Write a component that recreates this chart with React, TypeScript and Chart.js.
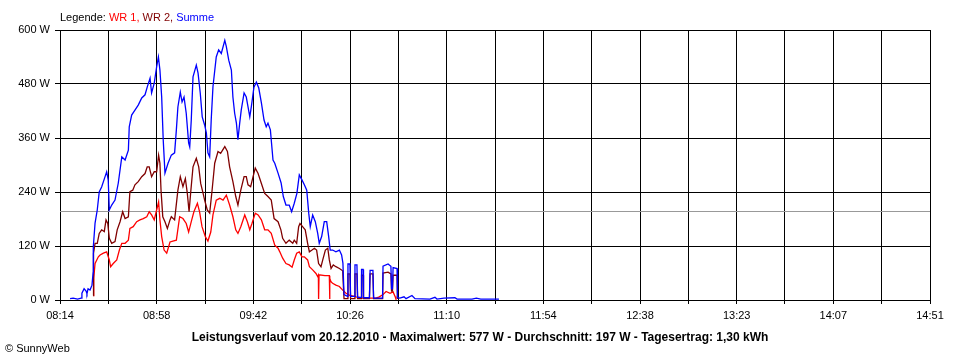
import React, { useEffect, useRef } from 'react';
import { Chart, registerables } from 'chart.js';

Chart.register(...registerables);

// ---- data (x in minutes after 08:14, y in watts) ----
const TOTAL_MINUTES = 397;
const X_LABELS = ['08:14', '08:58', '09:42', '10:26', '11:10', '11:54', '12:38', '13:23', '14:07', '14:51'];
const X_DIVISIONS = 18;
const Y_MAX = 600;
const Y_STEP = 120;
const AVERAGE_W = 197;
const TITLE = 'Leistungsverlauf vom 20.12.2010 - Maximalwert: 577 W - Durchschnitt: 197 W - Tagesertrag: 1,30 kWh';
const COPYRIGHT = '\u00A9 SunnyWeb';

const sumMinutes = [4.6, 6.0, 8.0, 9.6, 10.0, 11.0, 11.9, 12.3, 12.8, 13.7, 14.6, 15.1, 15.2, 16.0, 17.0, 17.9, 19.0, 20.5, 21.3, 22.0, 22.5, 23.6, 25.1, 26.6, 28.2, 29.7, 31.2, 31.6, 32.7, 34.2, 35.7, 37.3, 38.8, 39.8, 41.1, 41.8, 43.0, 44.1, 44.9, 45.6, 46.4, 47.1, 47.9, 49.3, 50.8, 52.3, 53.1, 53.8, 54.9, 55.7, 56.6, 57.6, 58.7, 59.2, 59.9, 60.7, 62.2, 63.0, 64.0, 64.9, 66.0, 66.8, 67.5, 68.3, 69.0, 69.8, 71.3, 72.4, 73.6, 75.2, 75.9, 77.0, 78.2, 78.9, 79.7, 80.5, 81.2, 82.0, 82.7, 84.0, 85.0, 85.8, 86.6, 87.3, 88.5, 89.6, 90.7, 91.9, 93.1, 94.1, 94.9, 96.0, 97.2, 98.0, 99.5, 100.9, 101.9, 103.1, 104.6, 105.7, 106.9, 108.1, 109.2, 110.4, 111.5, 112.6, 113.5, 114.2, 115.3, 116.5, 117.6, 118.3, 119.4, 120.6, 121.7, 122.6, 123.3, 124.4, 125.9, 127.5, 128.5, 129.1, 129.6, 131.2, 131.4, 132.3, 132.6, 134.4, 134.6, 135.5, 135.8, 137.4, 137.6, 138.3, 138.5, 141.2, 141.5, 142.8, 143.1, 147.2, 147.4, 149.7, 151.0, 151.3, 151.7, 152.0, 153.8, 154.0, 155.1, 157.0, 157.9, 160.6, 162.0, 168.8, 171.1, 172.0, 175.2, 180.2, 181.2, 188.0, 190.0, 192.0, 200.3];
const sumWatts = [3, 4, 2, 4, 15, 25, 20, 14, 25, 22, 33, 60, 118, 171, 200, 240, 251, 273, 285, 267, 200, 211, 222, 260, 318, 311, 333, 385, 411, 422, 433, 449, 456, 473, 493, 460, 482, 518, 540, 511, 451, 356, 282, 304, 322, 327, 378, 429, 462, 440, 451, 415, 349, 340, 400, 496, 522, 504, 460, 407, 389, 371, 327, 318, 400, 474, 540, 556, 548, 577, 563, 533, 511, 451, 415, 393, 356, 393, 422, 460, 451, 429, 407, 429, 473, 484, 471, 438, 400, 385, 393, 378, 311, 304, 282, 260, 230, 211, 211, 196, 215, 237, 278, 267, 256, 244, 193, 163, 189, 174, 148, 126, 141, 174, 174, 141, 111, 111, 107, 111, 100, 82, 12, 8, 80, 80, 8, 8, 78, 78, 6, 6, 68, 68, 5, 5, 66, 66, 4, 4, 75, 80, 75, 25, 25, 72, 70, 5, 4, 7, 3, 10, 3, 2, 6, 2, 4, 5, 2, 2, 4, 2, 2];

const wr1Minutes = [15.2, 15.4, 16.0, 17.5, 18.3, 19.8, 21.3, 22.5, 23.1, 24.3, 25.9, 27.1, 28.2, 29.7, 31.2, 31.9, 33.4, 35.0, 36.5, 38.0, 39.6, 40.7, 41.8, 43.0, 44.1, 45.0, 45.6, 46.4, 47.5, 48.7, 50.2, 51.5, 53.1, 54.6, 56.1, 57.6, 58.7, 59.9, 61.1, 62.7, 63.7, 64.8, 66.3, 67.5, 68.8, 69.8, 71.3, 72.9, 74.4, 75.9, 77.4, 78.9, 80.2, 81.2, 82.5, 84.3, 85.5, 86.6, 87.6, 89.1, 90.4, 91.9, 93.4, 94.9, 96.4, 98.0, 99.5, 100.3, 101.6, 103.1, 104.6, 105.9, 106.9, 108.0, 109.2, 110.4, 111.5, 113.0, 113.8, 115.3, 116.8, 117.6, 117.9, 118.0, 118.2, 120.9, 122.9, 123.0, 123.2, 123.6, 124.4, 125.9, 127.5, 129.0, 130.5, 132.0, 135.1, 138.1, 144.2, 145.7, 147.4, 148.8, 150.6, 152.0, 152.9, 153.3];
const wr1Watts = [10, 49, 81, 96, 100, 104, 107, 89, 74, 81, 89, 111, 126, 126, 133, 159, 163, 174, 178, 181, 185, 196, 189, 178, 200, 218, 178, 141, 111, 104, 129, 131, 133, 185, 181, 170, 151, 174, 196, 215, 196, 163, 141, 131, 151, 189, 222, 226, 222, 233, 211, 185, 156, 148, 163, 189, 174, 156, 170, 193, 189, 178, 156, 156, 148, 122, 115, 107, 93, 81, 78, 73, 89, 104, 107, 96, 96, 89, 74, 67, 59, 52, 55, 2, 56, 54, 54, 2, 48, 41, 37, 33, 30, 22, 15, 11, 7, 4, 4, 7, 12, 19, 15, 18, 8, 2];

const wr2Minutes = [15.2, 15.3, 16.0, 17.0, 17.9, 19.0, 20.2, 21.0, 21.8, 22.5, 23.6, 25.1, 26.1, 27.4, 28.6, 29.7, 31.2, 31.9, 33.2, 34.2, 35.7, 37.3, 38.8, 39.8, 40.7, 41.8, 43.0, 44.1, 45.0, 45.6, 46.1, 46.9, 47.9, 49.0, 50.2, 50.8, 52.3, 53.8, 54.9, 56.1, 57.2, 58.1, 58.9, 59.6, 60.7, 62.2, 63.3, 64.2, 65.3, 66.0, 67.2, 68.3, 69.4, 70.6, 72.1, 73.3, 75.2, 76.4, 77.4, 78.9, 80.2, 81.2, 82.5, 84.0, 85.0, 85.8, 87.0, 88.1, 89.1, 90.4, 91.9, 93.4, 94.9, 96.4, 97.7, 99.5, 100.8, 101.6, 103.1, 104.6, 106.2, 106.9, 108.0, 108.9, 109.5, 110.7, 111.9, 113.0, 113.8, 115.0, 116.1, 117.1, 118.0, 119.1, 119.9, 121.1, 122.2, 122.9, 123.7, 124.7, 125.9, 127.5, 129.0, 129.1, 129.6, 131.2, 131.4, 132.3, 132.6, 134.4, 134.6, 135.5, 135.8, 137.4, 137.6, 138.3, 138.5, 141.2, 141.5, 142.8, 143.1, 147.2, 147.4, 149.7, 151.0, 151.3, 151.7, 152.0, 153.8, 154.0];
const wr2Watts = [10, 104, 126, 126, 148, 156, 152, 178, 170, 137, 126, 130, 156, 174, 196, 181, 185, 241, 244, 256, 263, 274, 281, 296, 296, 274, 285, 285, 322, 304, 244, 185, 174, 159, 178, 185, 178, 244, 274, 252, 270, 237, 196, 237, 296, 315, 296, 259, 237, 222, 200, 193, 244, 304, 330, 326, 341, 330, 296, 263, 230, 211, 244, 274, 274, 256, 252, 274, 293, 281, 259, 237, 230, 222, 181, 174, 156, 137, 126, 133, 126, 133, 126, 163, 170, 163, 156, 126, 107, 111, 115, 111, 81, 74, 89, 111, 115, 89, 70, 78, 74, 70, 65, 52, 3, 3, 58, 58, 3, 3, 58, 58, 3, 3, 55, 55, 3, 3, 58, 58, 3, 3, 60, 62, 58, 20, 20, 55, 55, 2];

// ---- styling ----
const FONT = "'Liberation Sans Narrow', 'Arial Narrow', 'Liberation Sans', Arial, sans-serif";
const COLOR_WR1 = '#ff0000';
const COLOR_WR2 = '#800000';
const COLOR_SUM = '#0000ff';
const LEGEND_PARTS: [string, string][] = [
  ['Legende: ', '#000000'],
  ['WR 1, ', COLOR_WR1],
  ['WR 2, ', COLOR_WR2],
  ['Summe', COLOR_SUM],
];

const toPoints = (xs: number[], ys: number[]) => xs.map((x, i) => ({ x, y: ys[i] }));

const decorPlugin = {
  id: 'decor',
  beforeDatasetsDraw(chart: any) {
    const { ctx, chartArea, scales } = chart;
    const y = Math.round(scales.y.getPixelForValue(AVERAGE_W)) + 0.5;
    ctx.save();
    ctx.strokeStyle = '#999999';
    ctx.lineWidth = 1;
    ctx.beginPath();
    ctx.moveTo(chartArea.left, y);
    ctx.lineTo(chartArea.right, y);
    ctx.stroke();
    ctx.restore();
  },
  afterDraw(chart: any) {
    const { ctx } = chart;
    ctx.save();
    ctx.textBaseline = 'alphabetic';
    ctx.font = `11px ${FONT}`;
    let x = 60;
    for (const [text, color] of LEGEND_PARTS) {
      ctx.fillStyle = color;
      ctx.fillText(text, x, 21);
      x += ctx.measureText(text).width;
    }
    ctx.fillStyle = '#000000';
    ctx.font = `bold 12px ${FONT}`;
    ctx.textAlign = 'center';
    ctx.fillText(TITLE, 480, 341);
    ctx.textAlign = 'left';
    ctx.font = `11px ${FONT}`;
    ctx.fillText(COPYRIGHT, 5, 352);
    ctx.restore();
  },
};

export default function App() {
  const canvasRef = useRef<HTMLCanvasElement | null>(null);

  useEffect(() => {
    const canvas = canvasRef.current;
    if (!canvas) return;
    const xTickValues = Array.from({ length: X_DIVISIONS + 1 }, (_, i) => (i * TOTAL_MINUTES) / X_DIVISIONS);
    const chart = new Chart(canvas, {
      type: 'line',
      data: {
        datasets: [
          { label: 'Summe', data: toPoints(sumMinutes, sumWatts), borderColor: COLOR_SUM, borderWidth: 1.3, pointRadius: 0, tension: 0, order: 1 },
          { label: 'WR 2', data: toPoints(wr2Minutes, wr2Watts), borderColor: COLOR_WR2, borderWidth: 1.3, pointRadius: 0, tension: 0, order: 2 },
          { label: 'WR 1', data: toPoints(wr1Minutes, wr1Watts), borderColor: COLOR_WR1, borderWidth: 1.3, pointRadius: 0, tension: 0, order: 3 },
        ],
      },
      options: {
        animation: false,
        responsive: false,
        devicePixelRatio: 1,
        layout: { padding: { left: 0, right: 30, top: 30, bottom: 40 } },
        plugins: { legend: { display: false }, tooltip: { enabled: false }, title: { display: false } },
        scales: {
          x: {
            type: 'linear',
            min: 0,
            max: TOTAL_MINUTES,
            afterBuildTicks: (scale: any) => {
              scale.ticks = xTickValues.map((v) => ({ value: v }));
            },
            afterFit: (scale: any) => {
              scale.height = 20;
            },
            grid: { color: '#000000', lineWidth: 1, tickLength: 4, drawTicks: true },
            border: { color: '#000000', width: 1 },
            ticks: {
              autoSkip: false,
              maxRotation: 0,
              padding: 5,
              color: '#000000',
              font: { family: FONT, size: 11 },
              callback: (_v: any, index: number) => (index % 2 === 0 ? X_LABELS[index / 2] : ''),
            },
          },
          y: {
            min: 0,
            max: Y_MAX,
            afterFit: (scale: any) => {
              scale.width = 60;
            },
            grid: { color: '#000000', lineWidth: 1, tickLength: 5 },
            border: { color: '#000000', width: 1 },
            ticks: {
              stepSize: Y_STEP,
              padding: 5,
              color: '#000000',
              font: { family: FONT, size: 11 },
              callback: (v: any) => `${v} W`,
            },
          },
        },
      },
      plugins: [decorPlugin],
    });
    return () => chart.destroy();
  }, []);

  return (
    <div style={{ position: 'fixed', left: 0, top: 0, width: 960, height: 360, background: '#ffffff' }}>
      <canvas ref={canvasRef} width={960} height={360} style={{ display: 'block' }} />
    </div>
  );
}
